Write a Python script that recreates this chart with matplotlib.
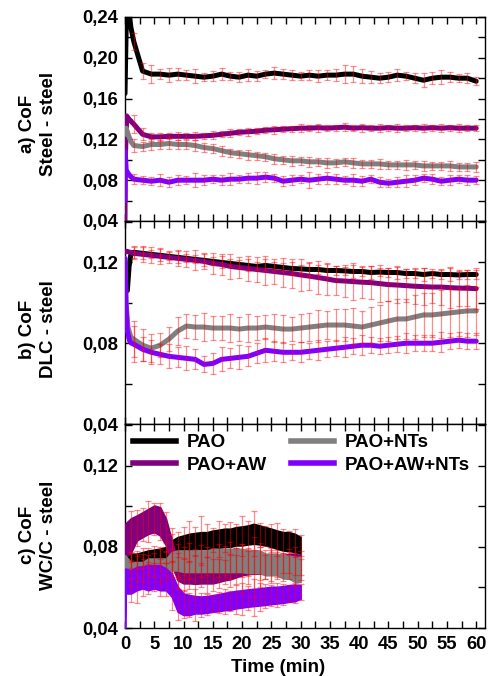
import numpy as np
import matplotlib
matplotlib.use('Agg')
import matplotlib.pyplot as plt
from matplotlib.ticker import MultipleLocator, FuncFormatter
from matplotlib.lines import Line2D

plt.rcParams['font.family'] = ['Liberation Sans', 'DejaVu Sans']
plt.rcParams['font.weight'] = 'bold'

# ---------------- data ----------------
labels = ['PAO', 'PAO+AW', 'PAO+NTs', 'PAO+AW+NTs']
colors = {'PAO': '#000000', 'PAO+AW': '#800080', 'PAO+NTs': '#808080', 'PAO+AW+NTs': '#8000ff'}

grid = [1.5, 3, 4.5, 6, 7.5, 9, 10.5, 12, 13.5, 15, 16.5, 18, 19.5, 21, 22.5, 24, 25.5, 27, 28.5, 30,
        31.5, 33, 34.5, 36, 37.5, 39, 40.5, 42, 43.5, 45, 46.5, 48, 49.5, 51, 52.5, 54, 55.5, 57, 58.5, 60]

# panel a) steel - steel : start-up transients
a_start_t = {'PAO': [0, 0.3, 0.7, 1.0], 'PAO+AW': [0, 0.05, 0.3, 0.8],
             'PAO+NTs': [0, 0.2, 0.6, 1.0], 'PAO+AW+NTs': [0, 0.05, 0.2, 0.5, 0.9]}
a_start_y = {'PAO': [0.165, 0.26, 0.245, 0.23], 'PAO+AW': [0.04, 0.10, 0.143, 0.139],
             'PAO+NTs': [0.125, 0.131, 0.124, 0.118], 'PAO+AW+NTs': [0.06, 0.108, 0.09, 0.087, 0.084]}
a_pao = [0.216, 0.187, 0.184, 0.184, 0.183, 0.184, 0.183, 0.182, 0.181, 0.182,
         0.184, 0.182, 0.181, 0.183, 0.182, 0.184, 0.185, 0.184, 0.183, 0.182,
         0.183, 0.182, 0.183, 0.183, 0.184, 0.184, 0.182, 0.181, 0.180, 0.181,
         0.183, 0.182, 0.180, 0.178, 0.180, 0.181, 0.181, 0.180, 0.180, 0.177]
a_pao_err = [0.008, 0.008, 0.009, 0.005, 0.007, 0.006, 0.005, 0.007, 0.004, 0.005,
             0.006, 0.004, 0.005, 0.006, 0.005, 0.004, 0.006, 0.005, 0.005, 0.004,
             0.005, 0.006, 0.005, 0.006, 0.009, 0.008, 0.007, 0.006, 0.005, 0.005,
             0.006, 0.004, 0.005, 0.007, 0.006, 0.007, 0.005, 0.004, 0.005, 0.004]
a_aw = [0.135, 0.125, 0.1225, 0.1225, 0.123, 0.123, 0.123, 0.123, 0.1235, 0.124,
        0.125, 0.126, 0.127, 0.1275, 0.128, 0.129, 0.1295, 0.130, 0.1305, 0.131,
        0.131, 0.1315, 0.131, 0.1315, 0.132, 0.131, 0.1315, 0.131, 0.131, 0.1315,
        0.131, 0.131, 0.1315, 0.131, 0.1315, 0.131, 0.1315, 0.131, 0.131, 0.131]
a_aw_err = [0.009, 0.006, 0.004, 0.004, 0.003, 0.004, 0.003, 0.004, 0.003, 0.004,
            0.003, 0.004, 0.003, 0.004, 0.003, 0.003, 0.004, 0.003, 0.003, 0.004,
            0.003, 0.004, 0.003, 0.003, 0.004, 0.003, 0.004, 0.003, 0.004, 0.003,
            0.004, 0.003, 0.003, 0.004, 0.003, 0.004, 0.003, 0.004, 0.003, 0.003]
a_nts = [0.114, 0.113, 0.115, 0.115, 0.116, 0.115, 0.115, 0.114, 0.112, 0.111,
         0.109, 0.107, 0.106, 0.105, 0.104, 0.103, 0.101, 0.100, 0.099, 0.099,
         0.098, 0.098, 0.097, 0.097, 0.098, 0.097, 0.096, 0.096, 0.096, 0.095,
         0.095, 0.095, 0.095, 0.094, 0.094, 0.094, 0.094, 0.093, 0.093, 0.093]
a_nts_err = [0.006, 0.004, 0.005, 0.004, 0.005, 0.004, 0.004, 0.005, 0.004, 0.004,
             0.005, 0.004, 0.004, 0.005, 0.004, 0.004, 0.005, 0.004, 0.005, 0.004,
             0.005, 0.004, 0.005, 0.004, 0.004, 0.005, 0.004, 0.004, 0.005, 0.004,
             0.004, 0.005, 0.004, 0.005, 0.004, 0.004, 0.005, 0.004, 0.004, 0.005]
a_awnts = [0.081, 0.080, 0.079, 0.080, 0.078, 0.080, 0.080, 0.080, 0.080, 0.081,
           0.080, 0.081, 0.081, 0.082, 0.082, 0.083, 0.082, 0.079, 0.080, 0.081,
           0.080, 0.081, 0.082, 0.081, 0.080, 0.080, 0.079, 0.081, 0.078, 0.077,
           0.078, 0.079, 0.080, 0.082, 0.081, 0.079, 0.080, 0.081, 0.080, 0.080]
a_awnts_err = [0.005, 0.004, 0.004, 0.006, 0.005, 0.005, 0.004, 0.007, 0.005, 0.004,
               0.005, 0.006, 0.004, 0.005, 0.006, 0.005, 0.004, 0.005, 0.005, 0.004,
               0.008, 0.005, 0.006, 0.005, 0.004, 0.006, 0.005, 0.004, 0.005, 0.004,
               0.005, 0.006, 0.005, 0.004, 0.005, 0.004, 0.005, 0.004, 0.005, 0.004]

# panel b) DLC - steel
b_start_t = {'PAO': [0.4, 0.7, 1.0], 'PAO+AW': [0, 0.3],
             'PAO+NTs': [0, 0.2, 0.5, 1.0], 'PAO+AW+NTs': [0, 0.15, 0.4, 0.8, 1.1]}
b_start_y = {'PAO': [0.106, 0.118, 0.124], 'PAO+AW': [0.125, 0.1255],
             'PAO+NTs': [0.121, 0.100, 0.088, 0.083], 'PAO+AW+NTs': [0.122, 0.100, 0.086, 0.081, 0.080]}
b_pao = [0.125, 0.1245, 0.124, 0.1235, 0.123, 0.1225, 0.122, 0.1215, 0.121, 0.1205,
         0.120, 0.1195, 0.119, 0.1185, 0.118, 0.1185, 0.118, 0.1175, 0.117, 0.1168,
         0.1165, 0.1165, 0.116, 0.116, 0.1158, 0.1155, 0.1155, 0.115, 0.1152, 0.115,
         0.115, 0.1145, 0.1145, 0.114, 0.1145, 0.114, 0.114, 0.1138, 0.114, 0.114]
b_pao_err = [0.003, 0.003, 0.002, 0.003, 0.002, 0.003, 0.002, 0.002, 0.003, 0.002,
             0.003, 0.002, 0.002, 0.003, 0.002, 0.003, 0.002, 0.002, 0.003, 0.002,
             0.003, 0.002, 0.003, 0.002, 0.002, 0.003, 0.002, 0.003, 0.002, 0.002,
             0.003, 0.002, 0.002, 0.003, 0.002, 0.002, 0.003, 0.002, 0.002, 0.002]
b_aw = [0.1245, 0.124, 0.1235, 0.123, 0.1225, 0.122, 0.1215, 0.121, 0.1205, 0.1195,
        0.119, 0.118, 0.1175, 0.117, 0.1165, 0.116, 0.1155, 0.115, 0.1145, 0.1138,
        0.1132, 0.1125, 0.1118, 0.111, 0.1108, 0.1105, 0.1102, 0.110, 0.1095, 0.109,
        0.1088, 0.1085, 0.1082, 0.108, 0.1078, 0.1078, 0.1075, 0.1073, 0.1072, 0.107]
b_aw_err = [0.003, 0.004, 0.004, 0.004, 0.003, 0.004, 0.004, 0.005, 0.004, 0.005,
            0.005, 0.006, 0.005, 0.006, 0.006, 0.007, 0.006, 0.007, 0.007, 0.008,
            0.007, 0.008, 0.008, 0.007, 0.008, 0.009, 0.008, 0.008, 0.009, 0.008,
            0.009, 0.008, 0.009, 0.009, 0.008, 0.009, 0.010, 0.009, 0.009, 0.010]
b_nts = [0.082, 0.079, 0.0775, 0.079, 0.082, 0.086, 0.0885, 0.088, 0.088, 0.0875,
         0.0875, 0.0875, 0.087, 0.0875, 0.0875, 0.088, 0.0875, 0.087, 0.087, 0.0875,
         0.088, 0.0885, 0.089, 0.089, 0.089, 0.0885, 0.088, 0.089, 0.090, 0.091,
         0.092, 0.092, 0.093, 0.094, 0.094, 0.0945, 0.095, 0.0955, 0.096, 0.096]
b_nts_err = [0.009, 0.008, 0.007, 0.006, 0.006, 0.007, 0.006, 0.006, 0.007, 0.006,
             0.006, 0.007, 0.006, 0.007, 0.006, 0.006, 0.007, 0.007, 0.006, 0.007,
             0.007, 0.008, 0.007, 0.008, 0.008, 0.009, 0.008, 0.009, 0.009, 0.010,
             0.010, 0.010, 0.011, 0.011, 0.011, 0.012, 0.012, 0.012, 0.013, 0.012]
b_awnts = [0.0795, 0.077, 0.0755, 0.0745, 0.0735, 0.073, 0.0725, 0.072, 0.0695, 0.070,
           0.072, 0.0725, 0.073, 0.0735, 0.075, 0.0765, 0.076, 0.0755, 0.0755, 0.0755,
           0.076, 0.0765, 0.077, 0.0775, 0.078, 0.0785, 0.079, 0.079, 0.0785, 0.079,
           0.0795, 0.080, 0.080, 0.080, 0.080, 0.0805, 0.081, 0.0815, 0.081, 0.081]
b_awnts_err = [0.009, 0.006, 0.006, 0.005, 0.006, 0.005, 0.006, 0.005, 0.004, 0.005,
               0.006, 0.005, 0.006, 0.005, 0.005, 0.006, 0.005, 0.005, 0.004, 0.005,
               0.004, 0.005, 0.004, 0.004, 0.005, 0.004, 0.005, 0.004, 0.004, 0.004,
               0.004, 0.005, 0.004, 0.004, 0.004, 0.005, 0.004, 0.004, 0.004, 0.004]

# panel c) WC/C - steel (noisy bands: upper / lower envelopes)
t_c = list(range(0, 31))
t_c_awnts = [0, 0.1] + list(range(1, 31))
c_pao_hi = [0.075, 0.0766, 0.0766, 0.0774, 0.0782, 0.0786, 0.0791, 0.0799, 0.0831, 0.0848, 0.0856,
            0.0864, 0.0868, 0.0872, 0.0872, 0.088, 0.0884, 0.0889, 0.0889, 0.0897, 0.090,
            0.0905, 0.0913, 0.0905, 0.0897, 0.0889, 0.088, 0.0872, 0.0872, 0.0864, 0.0848]
c_pao_lo = [0.070, 0.0701, 0.071, 0.0717, 0.0725, 0.0725, 0.073, 0.0742, 0.0758, 0.0774, 0.0782,
            0.0786, 0.0786, 0.079, 0.079, 0.079, 0.0795, 0.0799, 0.080, 0.0807, 0.0807,
            0.0812, 0.0815, 0.0812, 0.0807, 0.0799, 0.079, 0.0782, 0.078, 0.0774, 0.0766]
c_aw_hi = [0.0913, 0.094, 0.0954, 0.097, 0.0987, 0.1003, 0.0995, 0.0938, 0.0831, 0.0725, 0.0709,
           0.0705, 0.0702, 0.070, 0.070, 0.070, 0.0709, 0.0715, 0.072, 0.0725, 0.0725,
           0.073, 0.073, 0.0733, 0.0735, 0.074, 0.075, 0.0758, 0.0766, 0.0766, 0.0758]
c_aw_lo = [0.075, 0.077, 0.0831, 0.0848, 0.0864, 0.0872, 0.0856, 0.0807, 0.071, 0.0635, 0.062,
           0.062, 0.0618, 0.062, 0.062, 0.062, 0.0627, 0.0635, 0.064, 0.065, 0.066,
           0.0665, 0.0668, 0.0668, 0.0665, 0.0668, 0.0676, 0.0684, 0.0692, 0.0692, 0.0684]
c_nts_hi = [0.0758, 0.0725, 0.0725, 0.0725, 0.0742, 0.0742, 0.0742, 0.0742, 0.0774, 0.0782, 0.0782,
            0.0782, 0.0782, 0.0782, 0.0782, 0.079, 0.079, 0.079, 0.079, 0.079, 0.079,
            0.0782, 0.0782, 0.0782, 0.0766, 0.0766, 0.0766, 0.0758, 0.0758, 0.075, 0.075]
c_nts_lo = [0.0684, 0.0652, 0.066, 0.0668, 0.0676, 0.0676, 0.0676, 0.0676, 0.0684, 0.0684, 0.0676,
            0.0676, 0.0676, 0.0676, 0.0676, 0.0676, 0.0676, 0.0676, 0.0676, 0.0676, 0.0676,
            0.0671, 0.0671, 0.0671, 0.066, 0.066, 0.066, 0.0644, 0.0644, 0.0627, 0.0627]
c_awnts_hi = [0.069, 0.0693, 0.0684, 0.0701, 0.0704, 0.0709, 0.0709, 0.0709, 0.0693, 0.0668, 0.0603,
              0.057, 0.0562, 0.0557, 0.0555, 0.0557, 0.0562, 0.0567, 0.0573, 0.0578, 0.0583,
              0.0586, 0.059, 0.0593, 0.0595, 0.0599, 0.0603, 0.0603, 0.0606, 0.0611, 0.0614, 0.0611]
c_awnts_lo = [0.040, 0.057, 0.057, 0.0586, 0.0595, 0.0586, 0.0595, 0.0586, 0.0586, 0.0554, 0.048,
              0.0464, 0.0464, 0.0472, 0.0472, 0.0475, 0.048, 0.0483, 0.0488, 0.049, 0.0497,
              0.0501, 0.0505, 0.0508, 0.0511, 0.0514, 0.0518, 0.0521, 0.0524, 0.0529, 0.0532, 0.0545]
c_pao_err = [0.004, 0.004, 0.005, 0.004, 0.005, 0.004, 0.005, 0.007, 0.006, 0.008, 0.010, 0.007, 0.012, 0.008, 0.006,
             0.009, 0.007, 0.008, 0.006, 0.010, 0.007, 0.011, 0.006, 0.005, 0.007, 0.008, 0.006, 0.005, 0.007, 0.005]
c_aw_err = [0.012, 0.009, 0.008, 0.010, 0.008, 0.009, 0.010, 0.012, 0.009, 0.008, 0.007, 0.010, 0.006, 0.009, 0.008,
            0.007, 0.006, 0.008, 0.007, 0.012, 0.008, 0.015, 0.010, 0.006, 0.008, 0.007, 0.005, 0.006, 0.007, 0.006]
c_nts_err = [0.008, 0.006, 0.007, 0.005, 0.006, 0.008, 0.007, 0.006, 0.008, 0.007, 0.009, 0.006, 0.008, 0.007, 0.006,
             0.008, 0.007, 0.009, 0.006, 0.008, 0.007, 0.006, 0.009, 0.007, 0.008, 0.006, 0.007, 0.006, 0.008, 0.005]
c_awnts_err = [0.010, 0.012, 0.009, 0.008, 0.007, 0.009, 0.008, 0.012, 0.010, 0.007, 0.006, 0.008, 0.006, 0.005, 0.004,
               0.005, 0.006, 0.005, 0.007, 0.008, 0.006, 0.009, 0.007, 0.006, 0.005, 0.006, 0.005, 0.004, 0.005, 0.004]

a_grid = {'PAO': (a_pao, a_pao_err), 'PAO+AW': (a_aw, a_aw_err),
          'PAO+NTs': (a_nts, a_nts_err), 'PAO+AW+NTs': (a_awnts, a_awnts_err)}
b_grid = {'PAO': (b_pao, b_pao_err), 'PAO+AW': (b_aw, b_aw_err),
          'PAO+NTs': (b_nts, b_nts_err), 'PAO+AW+NTs': (b_awnts, b_awnts_err)}
c_bands = {'PAO': (t_c, c_pao_hi, c_pao_lo, c_pao_err),
           'PAO+NTs': (t_c, c_nts_hi, c_nts_lo, c_nts_err),
           'PAO+AW': (t_c, c_aw_hi, c_aw_lo, c_aw_err),
           'PAO+AW+NTs': (t_c_awnts, c_awnts_hi, c_awnts_lo, c_awnts_err)}

# ---------------- figure ----------------
W, H = 489, 676
fig = plt.figure(figsize=(W / 100, H / 100), dpi=100)
left, width = 125 / W, 360 / W
ax_a = fig.add_axes([left, 1 - 221 / H, width, 204 / H])
ax_b = fig.add_axes([left, 1 - 424 / H, width, 203 / H])
ax_c = fig.add_axes([left, 1 - 628 / H, width, 204 / H])

ERR = dict(fmt='none', ecolor=(1, 0, 0, 0.45), elinewidth=0.9, capsize=2.2, capthick=0.9, zorder=5)
LW = 3.6


def line_panel(ax, start_t, start_y, gdict):
    for lab in labels:
        vals, errs = gdict[lab]
        t = np.concatenate([start_t[lab], grid])
        y = np.concatenate([start_y[lab], vals])
        ax.plot(t, y, color=colors[lab], lw=LW, solid_capstyle='round', solid_joinstyle='round', zorder=3)
    for lab in labels:
        vals, errs = gdict[lab]
        ax.errorbar(grid, vals, yerr=errs, **ERR)


line_panel(ax_a, a_start_t, a_start_y, a_grid)
line_panel(ax_b, b_start_t, b_start_y, b_grid)

c_order = ['PAO', 'PAO+AW', 'PAO+NTs', 'PAO+AW+NTs']
for lab in c_order:
    t, hi, lo, err = c_bands[lab]
    ax_c.fill_between(t, lo, hi, color=colors[lab], lw=1.2, edgecolor=colors[lab], zorder=3)
for lab in c_order:
    t, hi, lo, err = c_bands[lab]
    n = len(err)
    tt = np.array(t[-n:], dtype=float)
    mid = (np.array(hi[-n:]) + np.array(lo[-n:])) / 2
    ax_c.errorbar(tt, mid, yerr=err, **ERR)

fmt = FuncFormatter(lambda v, p: f"{v:.2f}".replace('.', ','))
for ax, ylim in [(ax_a, (0.04, 0.24)), (ax_b, (0.04, 0.1405)), (ax_c, (0.04, 0.1405))]:
    ax.set_xlim(0, 61.5)
    ax.set_ylim(*ylim)
    ax.xaxis.set_major_locator(MultipleLocator(5))
    ax.xaxis.set_minor_locator(MultipleLocator(2.5))
    ax.yaxis.set_major_locator(MultipleLocator(0.04))
    ax.yaxis.set_minor_locator(MultipleLocator(0.02))
    ax.yaxis.set_major_formatter(fmt)
    ax.tick_params(which='both', direction='in', top=True, right=True, length=5, width=1,
                   labelsize=13.3)
    ax.tick_params(axis='y', pad=5)
    ax.tick_params(axis='x', pad=6)
    for s in ax.spines.values():
        s.set_linewidth(1.0)
    for lbl in ax.get_xticklabels() + ax.get_yticklabels():
        lbl.set_fontweight('bold')

ax_a.tick_params(labelbottom=False)
ax_b.tick_params(labelbottom=False)

# y labels
for txt, yc in [("a) CoF\nSteel - steel", 124), ("b) CoF\nDLC - steel", 329), ("c) CoF\nWC/C - steel", 535)]:
    fig.text(38 / W, 1 - yc / H, txt, rotation=90, ha='center', va='center', fontsize=13.5,
             fontweight='bold', multialignment='center', linespacing=1.25)

fig.text(278 / W, 1 - 659 / H, 'Time (min)', ha='center', va='top', fontsize=13.5, fontweight='bold')

handles = [Line2D([], [], color=colors[l], lw=4) for l in labels]
ax_c.legend(handles, labels, ncol=2, loc='upper left', frameon=False,
            bbox_to_anchor=((133 - 125) / 360, 1 - (434 - 424) / 204),
            borderaxespad=0, borderpad=0, handlelength=2.3, handletextpad=0.55,
            columnspacing=1.3, labelspacing=0.3, prop={'size': 13.5, 'weight': 'bold'})

fig.savefig('out.png', dpi=100)
